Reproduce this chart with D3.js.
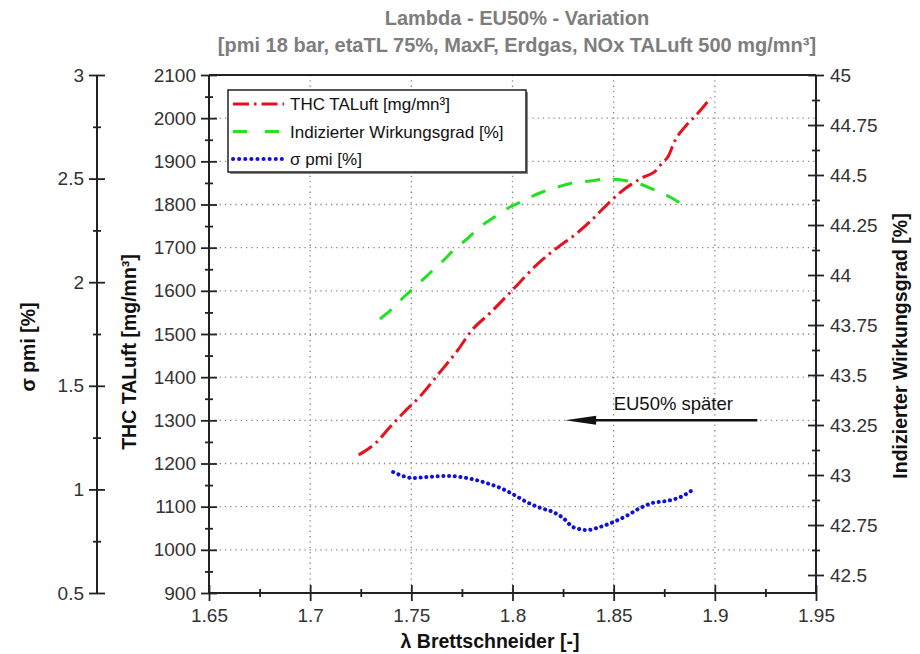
<!DOCTYPE html>
<html><head><meta charset="utf-8">
<script src="https://cdn.jsdelivr.net/npm/d3@7"></script>
<style>
body{margin:0;background:#fff;}
text{font-family:"Liberation Sans",Arial,sans-serif;}
</style></head>
<body><svg id="c" width="920" height="654"></svg>
<script>
// ---- data ----
const titleLines = ["Lambda - EU50% - Variation", "[pmi 18 bar, etaTL 75%, MaxF, Erdgas, NOx TALuft 500 mg/mn³]"];
const xTicks = [1.65, 1.7, 1.75, 1.8, 1.85, 1.9, 1.95];
const thcTicks = [900, 1000, 1100, 1200, 1300, 1400, 1500, 1600, 1700, 1800, 1900, 2000, 2100];
const sigTicks = [0.5, 1, 1.5, 2, 2.5, 3];
const effTicks = [42.5, 42.75, 43, 43.25, 43.5, 43.75, 44, 44.25, 44.5, 44.75, 45];

const thcLambda = [1.724,1.733,1.739,1.746,1.754,1.763,1.773,1.780,1.789,1.800,1.813,1.823,1.832,1.838,1.849,1.853,1.865,1.870,1.874,1.877,1.880,1.886,1.890,1.898];
const thcValues = [1220,1250,1282,1317,1354,1405,1463,1509,1549,1602,1665,1703,1734,1759,1810,1827,1864,1875,1896,1912,1945,1984,2003,2047];

const effLambda = [1.7345,1.7404,1.7468,1.7523,1.7592,1.7651,1.7715,1.7775,1.7839,1.7903,1.7987,1.8051,1.8135,1.8209,1.8298,1.8382,1.8466,1.854,1.8629,1.8703,1.8787,1.8856];
const effValues = [43.78,43.83,43.895,43.945,44.01,44.065,44.13,44.18,44.24,44.285,44.34,44.37,44.41,44.435,44.46,44.47,44.48,44.475,44.455,44.425,44.385,44.34];

const sigLambda = [1.741,1.751,1.758,1.768,1.774,1.780,1.787,1.794,1.800,1.807,1.814,1.820,1.825,1.830,1.837,1.843,1.850,1.857,1.863,1.869,1.876,1.883,1.889];
const sigValues = [1.084,1.055,1.060,1.065,1.060,1.050,1.031,1.007,0.978,0.939,0.910,0.891,0.862,0.818,0.804,0.818,0.843,0.876,0.910,0.934,0.944,0.963,0.997];

const legendLabels = ["THC TALuft [mg/mn³]", "Indizierter Wirkungsgrad [%]", "σ pmi [%]"];
const arrowLambda = [1.921, 1.826];
const arrowThc = 1300;
const arrowText = "EU50% später";

// ---- layout ----
const svg = d3.select("#c");
const L = 209, R = 816, T = 75, B = 593, SX = 97;
const x = d3.scaleLinear([1.65, 1.95], [L, R]);
const yT = d3.scaleLinear([900, 2100], [B, T]);
const yS = d3.scaleLinear([0.5, 3], [B, T]);
const yE = d3.scaleLinear([42.41, 45], [B, T]);
const tickCol = "#333", fs = 19;

// title
svg.selectAll(".title").data(titleLines).join("text")
  .attr("x", 517).attr("y", (d,i) => 25 + i*27)
  .attr("text-anchor", "middle").attr("font-size", 20).attr("font-weight", "bold")
  .attr("fill", "#7d7d7d").text(d => d);

// grid
const g = svg.append("g");
g.selectAll(".vg").data(xTicks.slice(1, -1)).join("line")
  .attr("x1", d => x(d)).attr("x2", d => x(d)).attr("y1", T).attr("y2", B)
  .attr("stroke", "#888").attr("stroke-width", 1.3).attr("stroke-dasharray", "1.3,4");
g.selectAll(".hg").data(thcTicks.slice(1, -1)).join("line")
  .attr("y1", d => yT(d)).attr("y2", d => yT(d)).attr("x1", L).attr("x2", R)
  .attr("stroke", "#888").attr("stroke-width", 1.3).attr("stroke-dasharray", "1.3,4");

// frame top
svg.append("line").attr("x1", L).attr("x2", R).attr("y1", T).attr("y2", T).attr("stroke", "#222").attr("stroke-width", 2);

function styleAxis(sel) {
  sel.select(".domain").attr("stroke", "#222").attr("stroke-width", 2);
  sel.selectAll(".tick line").attr("stroke", "#222").attr("stroke-width", 1.8);
  sel.selectAll(".tick text").attr("fill", tickCol).attr("font-size", fs)
    .attr("font-family", "Liberation Sans, Arial, sans-serif");
}
function vAxis(scale, xpos, major, minor, side) {
  const mk = () => (side === "left" ? d3.axisLeft(scale) : d3.axisRight(scale));
  const gm = svg.append("g").attr("transform", `translate(${xpos},0)`)
    .call(mk().tickValues(minor).tickFormat("").tickSizeOuter(0));
  gm.selectAll(".tick line").attr("x1", -4).attr("x2", 4).attr("stroke", "#222").attr("stroke-width", 1.8);
  gm.select(".domain").remove();
  const ga = svg.append("g").attr("transform", `translate(${xpos},0)`)
    .call(mk().tickValues(major).tickSizeOuter(0).tickPadding(side === "left" ? 7 : 8).tickFormat(d => d));
  styleAxis(ga);
  ga.selectAll(".tick line").attr("x1", -8).attr("x2", 8);
  ga.select(".domain").attr("d", `M0,${T}V${B}`);
  return ga;
}
const mid = (a) => a.slice(0, -1).map((v, i) => (v + a[i+1]) / 2);
vAxis(yS, SX, sigTicks, mid(sigTicks), "left");
vAxis(yT, L, thcTicks, mid(thcTicks), "left");
vAxis(yE, R, effTicks, mid(effTicks), "right");

// x axis
const gxm = svg.append("g").attr("transform", `translate(0,${B})`)
  .call(d3.axisBottom(x).tickValues(mid(xTicks)).tickFormat("").tickSizeOuter(0));
gxm.selectAll(".tick line").attr("y1", -4).attr("y2", 4).attr("stroke", "#222").attr("stroke-width", 1.8);
gxm.select(".domain").remove();
const gx = svg.append("g").attr("transform", `translate(0,${B})`)
  .call(d3.axisBottom(x).tickValues(xTicks).tickSizeOuter(0).tickPadding(10).tickFormat(d => d));
styleAxis(gx);
gx.selectAll(".tick line").attr("y1", -8).attr("y2", 8);
gx.select(".domain").attr("d", `M${L},0H${R}`);

// axis titles
svg.append("text").attr("transform", "translate(35,347) rotate(-90)").attr("text-anchor", "middle")
  .attr("font-size", 19.5).attr("font-weight", "bold").attr("fill", "#111").text("σ pmi [%]");
svg.append("text").attr("transform", "translate(136,352) rotate(-90)").attr("text-anchor", "middle")
  .attr("font-size", 19.5).attr("font-weight", "bold").attr("fill", "#111").text("THC TALuft [mg/mn³]");
svg.append("text").attr("transform", "translate(907,346) rotate(-90)").attr("text-anchor", "middle")
  .attr("font-size", 19.5).attr("font-weight", "bold").attr("fill", "#111").text("Indizierter Wirkungsgrad [%]");
svg.append("text").attr("x", 490).attr("y", 648).attr("text-anchor", "middle")
  .attr("font-size", 19.5).attr("font-weight", "bold").attr("fill", "#111").text("λ Brettschneider [-]");

// series
const styles = [
  {color: "#e8101c", dash: "16,5,2.5,5", w: 3, cap: "butt"},
  {color: "#22e022", dash: "15,13", w: 3, cap: "butt"},
  {color: "#1010dd", dash: "0.1,5.6", w: 4, cap: "round"}
];
const series = [
  {lam: thcLambda, val: thcValues, y: yT},
  {lam: effLambda, val: effValues, y: yE},
  {lam: sigLambda, val: sigValues, y: yS}
];
series.forEach((s, i) => {
  const line = d3.line().x(d => x(d[0])).y(d => s.y(d[1])).curve(d3.curveMonotoneX);
  svg.append("path").attr("d", line(d3.zip(s.lam, s.val)))
    .attr("fill", "none").attr("stroke", styles[i].color).attr("stroke-width", styles[i].w)
    .attr("stroke-dasharray", styles[i].dash).attr("stroke-linecap", styles[i].cap);
});

// legend
const lg = svg.append("g");
lg.append("rect").attr("x", 230).attr("y", 92).attr("width", 298).attr("height", 82).attr("fill", "#888");
lg.append("rect").attr("x", 228).attr("y", 90).attr("width", 298).attr("height", 82)
  .attr("fill", "#fff").attr("stroke", "#222").attr("stroke-width", 1.5);
legendLabels.forEach((t, i) => {
  const yy = 104 + i * 27.5;
  lg.append("line").attr("x1", 233).attr("x2", 284).attr("y1", yy).attr("y2", yy)
    .attr("stroke", styles[i].color).attr("stroke-width", styles[i].w)
    .attr("stroke-dasharray", i === 0 ? "16,5,2.5,5" : i === 1 ? "14,18" : "0.1,6")
    .attr("stroke-linecap", styles[i].cap);
  lg.append("text").attr("x", 290).attr("y", yy + 6).attr("font-size", 17).attr("fill", "#111").text(t);
});

// annotation arrow
const ay = yT(arrowThc), ax0 = x(arrowLambda[0]), ax1 = x(arrowLambda[1]);
svg.append("line").attr("x1", ax0).attr("x2", ax1 + 20).attr("y1", ay).attr("y2", ay)
  .attr("stroke", "#111").attr("stroke-width", 2.5);
svg.append("path").attr("d", `M${ax1},${ay}L${ax1 + 31},${ay - 4.5}L${ax1 + 31},${ay + 4.5}Z`).attr("fill", "#111");
svg.append("text").attr("x", x(1.85)).attr("y", ay - 10).attr("font-size", 18.5).attr("fill", "#111").text(arrowText);
</script></body></html>
